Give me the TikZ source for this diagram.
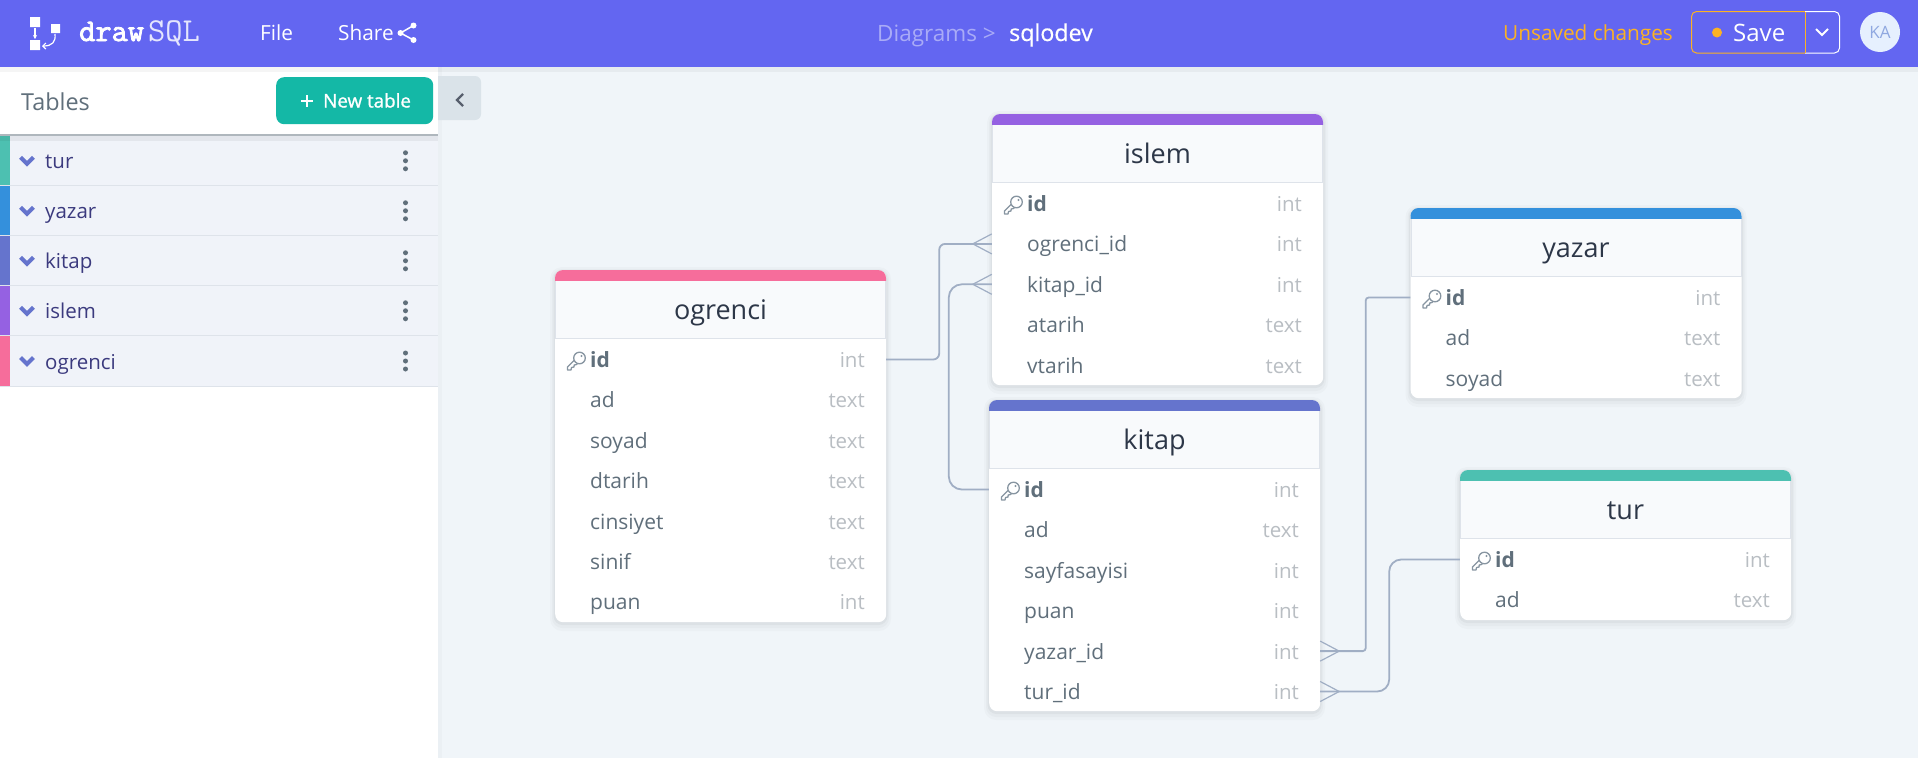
\documentclass[tikz,border=0pt]{standalone}
\usepackage{fontspec}
\setmainfont{Open Sans}
\newfontfamily\medfont[FakeBold=0.5]{Open Sans}
\newfontfamily\btnfont[FakeBold=1.1]{Open Sans}
\newfontfamily\logobold[FakeBold=2.6]{Latin Modern Mono}
\newfontfamily\logolight{Latin Modern Mono}
\usetikzlibrary{arrows.meta}
\definecolor{brand}{HTML}{6366F1}
\definecolor{canvasbg}{HTML}{F0F5F9}
\definecolor{rowbg}{HTML}{F0F3F9}
\definecolor{rowline}{HTML}{DEE3EA}
\definecolor{slate}{HTML}{606F7B}
\definecolor{typegrey}{HTML}{B9BEC3}
\definecolor{titleink}{HTML}{2D3748}
\definecolor{sideink}{HTML}{3B3A7E}
\definecolor{chev}{HTML}{6574CD}
\definecolor{linkc}{HTML}{A0AEC4}
\definecolor{amber}{HTML}{FBB224}
\definecolor{teal}{HTML}{14B8A6}
\definecolor{ctur}{HTML}{4DC0B1}
\definecolor{cyazar}{HTML}{3490DC}
\definecolor{ckitap}{HTML}{6574CD}
\definecolor{cislem}{HTML}{9561E2}
\definecolor{cogrenci}{HTML}{F66D9B}
\definecolor{headfill}{HTML}{F8FAFC}
\definecolor{keyc}{HTML}{8795A1}
\definecolor{collapsec}{HTML}{DAE3E9}
\definecolor{avatarc}{HTML}{E6F0FE}
\definecolor{avatarink}{HTML}{8FA8E0}
\definecolor{crumbc}{HTML}{A9ABF7}
\definecolor{sqlc}{HTML}{E4E5FD}
\tikzset{
  rowbox/.style={inner sep=0pt,minimum height=40pt,draw=none},
  tablebody/.style={inner sep=0pt,fill=white,rounded corners=8pt,anchor=north west},
  fieldname/.style={inner sep=0pt,anchor=base west,text=slate,font=\fontsize{21}{24}\selectfont},
  fieldtype/.style={inner sep=0pt,anchor=base east,text=typegrey,font=\fontsize{20.5}{24}\selectfont},
  tabletitle/.style={inner sep=0pt,anchor=base,text=titleink,font=\fontsize{27}{30}\selectfont},
  barlabel/.style={inner sep=0pt,anchor=base west,text=white,font=\fontsize{20.8}{24}\selectfont},
  sidelabel/.style={inner sep=0pt,anchor=base west,text=sideink,font=\fontsize{20.5}{24}\selectfont},
  link/.style={draw=linkc,line width=1.8pt},
  crow/.style={draw=linkc,line width=1.2pt},
  chevdown/.style={draw=chev,line width=4.2pt,line cap=butt,line join=miter},
  pics/keyicon/.style={code={
    \draw[draw=keyc,fill=white,line width=1.3pt,line join=round]
      (-2.5,0.5) -- (-9.5,7.5) -- (-9.5,10.5) -- (-6,10.5) -- (-5.5,8) -- (-3,7.5) -- (-2.8,5.5) -- (-0.5,5) -- (1.5,3) -- cycle;
    \draw[draw=keyc,fill=white,line width=1.3pt] (2.5,-1.5) circle (5.8);
    \fill[keyc] (4.5,-3.5) circle (1.2);
  }},
}
% name, x, top, width, height, title, colour, rows
\newcommand\dbtable[8]{%
  \fill[black,opacity=.018,rounded corners=12pt] (#2-5,#3-3) rectangle (#2+#4+5,#3+#5+9);
  \fill[black,opacity=.025,rounded corners=10pt] (#2-3,#3-1) rectangle (#2+#4+3,#3+#5+6);
  \fill[black,opacity=.035,rounded corners=9pt] (#2-1.5,#3) rectangle (#2+#4+1.5,#3+#5+3);
  \node[tablebody,minimum width=#4pt,minimum height=#5pt] (#1) at (#2,#3) {};
  \fill[headfill] (#2,#3+10) rectangle (#2+#4,#3+68);
  \draw[rowline,line width=1pt] (#2+.5,#3+10) -- (#2+.5,#3+68) -- (#2+#4-.5,#3+68) -- (#2+#4-.5,#3+10);
  \begin{scope}
    \clip (#2,#3) rectangle (#2+#4,#3+10);
    \fill[#7,rounded corners=8pt] (#2,#3) rectangle (#2+#4,#3+30);
  \end{scope}
  \node[tabletitle] (#1-title) at (#2+#4/2,#3+49) {#6};
  \foreach \rk/\rn/\rt [count=\ri from 0] in {#8}{
    \pgfmathsetmacro\ry{#3+89.5+40.4*\ri}
    \node[rowbox,minimum width=#4pt] (#1-\rk) at (#2+#4/2,\ry) {};
    \ifnum\ri=0
      \pic at (#2+22,\ry) {keyicon};
      \node[fieldname,font=\fontsize{21}{24}\selectfont\bfseries] (#1-\rk-name) at (#2+35,\ry+8) {\rn};
    \else
      \node[fieldname] (#1-\rk-name) at (#2+35,\ry+8) {\rn};
    \fi
    \node[fieldtype] (#1-\rk-type) at (#2+#4-21,\ry+8) {\rt};
  }%
}
% name, y0, y1, colour, text
\newcommand\siderow[5]{%
  \fill[rowbg] (10,#2) rectangle (438,#3);
  \fill[#4] (0,#2) rectangle (10,#3);
  \draw[rowline,line width=1pt] (0,#3) -- (438,#3);
  \draw[chevdown] (20.5,{(#2+#3)/2-3.5}) -- (27,{(#2+#3)/2+3}) -- (33.5,{(#2+#3)/2-3.5});
  \node[sidelabel] (side-#1) at (45,{(#2+#3)/2+8}) {#5};
  \foreach \dy in {-8,0,8} \fill[slate] (405.5,{(#2+#3)/2+\dy}) circle (2.5);
}
\begin{document}
\begin{tikzpicture}[x=1pt,y=-1pt]
\useasboundingbox (0,0) rectangle (1918,758);
\fill[canvasbg] (0,0) rectangle (1918,758);
% sidebar
\fill[black,opacity=.02] (438,67) rectangle (442,758);
\fill[white] (0,67) rectangle (438,758);
% collapse button
\fill[collapsec,rounded corners=6pt] (425,76) rectangle (481,120);
\fill[white] (425,76) rectangle (438,120);
\draw[titleink!80,line width=2.4pt,line join=miter] (463,94) -- (457,100) -- (463,106);
% side rows
\siderow{tur}{136}{185.5}{ctur}{tur}
\siderow{yazar}{186}{235.5}{cyazar}{yazar}
\siderow{kitap}{236}{285.5}{ckitap}{kitap}
\siderow{islem}{286}{335.5}{cislem}{islem}
\siderow{ogrenci}{336}{386}{cogrenci}{ogrenci}
% tables panel
\fill[black,opacity=.05] (0,136) rectangle (438,141);
\fill[white] (0,67) rectangle (438,134);
\fill[slate!50!white] (0,134) rectangle (438,136);
\node[inner sep=0pt,anchor=base west,text=slate,font=\fontsize{23.4}{28}\selectfont] (tables-label) at (21,110) {Tables};
\node[inner sep=0pt,fill=teal,rounded corners=8pt,minimum width=157pt,minimum height=47pt,anchor=north west] (new-btn) at (276,77) {};
\draw[white,line width=1.6pt] (301,101) -- (313,101) (307,95) -- (307,107);
\node[inner sep=0pt,anchor=base west,text=white,font=\fontsize{18.8}{22}\btnfont] (new-label) at (323,107.5) {New table};
% top bar
\fill[black,opacity=.04] (0,67) rectangle (1918,72);
\fill[brand] (0,0) rectangle (1918,67);
% logo
\fill[white] (30,17) rectangle (40,27) (30,40) rectangle (40,50) (51,24) rectangle (60,33);
\draw[white,line width=1.2pt,-{Stealth[length=4pt,width=4pt]}] (35,28) -- (35,39);
\draw[white,line width=1.2pt,-{Straight Barb[length=3pt,width=6pt]}] (55,34) .. controls (56,42) and (52,46) .. (42,46);
\node[inner sep=0pt,anchor=base west,text=white,font=\fontsize{31.5}{34}\logobold] (logo-draw) at (79,41) {draw};
\node[inner sep=0pt,anchor=base west,text=sqlc,font=\fontsize{33.5}{34}\logolight] (logo-sql) at (148,41) {SQL};
\node[barlabel] (file) at (260,40) {File};
\node[barlabel] (share) at (338,40) {Share};
\draw[white,line width=1.5pt] (413.5,25.5) -- (400.5,33) -- (413.5,40);
\fill[white] (413.5,25.5) circle (3) (400.5,33) circle (3) (413.5,40) circle (3);
\node[barlabel,text=crumbc,font=\fontsize{22.5}{26}\selectfont] (crumb) at (877,41) {Diagrams >};
\node[barlabel,font=\fontsize{23.2}{26}\medfont] (docname) at (1009,41) {sqlodev};
\node[barlabel,text=amber] (unsaved) at (1503,40) {Unsaved changes};
\draw[amber,line width=1pt,rounded corners=5pt] (1805,11.5) -- (1691.5,11.5) -- (1691.5,53) -- (1805,53);
\draw[white,line width=1pt,rounded corners=5pt] (1805,11.5) -- (1839.5,11.5) -- (1839.5,53) -- (1805,53);
\draw[amber,line width=1pt] (1805,11.5) -- (1805,53);
\fill[amber] (1717,32.5) circle (5);
\node[barlabel,font=\fontsize{24}{26}\selectfont] (save) at (1733,41) {Save};
\draw[white,line width=2pt] (1816,29) -- (1822,35) -- (1828,29);
\node[inner sep=0pt,circle,fill=avatarc,minimum size=40pt] (avatar) at (1880,32) {};
\node[inner sep=0pt,text=avatarink,font=\fontsize{17}{20}\selectfont] (avatar-text) at (1880,32.5) {KA};
% tables
\dbtable{ogrenci}{555}{270}{331}{352}{ogrenci}{cogrenci}{id/id/int,ad/ad/text,soyad/soyad/text,dtarih/dtarih/text,cinsiyet/cinsiyet/text,sinif/sinif/text,puan/puan/int}
\dbtable{islem}{992}{114}{331}{271}{islem}{cislem}{id/id/int,ogrenci/ogrenci\_id/int,kitap/kitap\_id/int,atarih/atarih/text,vtarih/vtarih/text}
\dbtable{kitap}{989}{400}{331}{311}{kitap}{ckitap}{id/id/int,ad/ad/text,sayfa/sayfasayisi/int,puan/puan/int,yazar/yazar\_id/int,tur/tur\_id/int}
\dbtable{yazar}{1410.5}{208}{331}{190}{yazar}{cyazar}{id/id/int,ad/ad/text,soyad/soyad/text}
\dbtable{tur}{1460}{470}{331}{150}{tur}{ctur}{id/id/int,ad/ad/text}
% connectors
\draw[link,rounded corners=6pt] (ogrenci-id.east) -- ++(53,0) |- (islem-ogrenci.west);
\draw[link,rounded corners=13pt] (kitap-id.west) -- ++(-40,0) |- (islem-kitap.west);
\draw[link,rounded corners=3pt] (kitap-yazar.east) -- ++(45.5,0) |- (yazar-id.west);
\draw[link,rounded corners=12pt] (kitap-tur.east) -- ++(69,0) |- (tur-id.west);
% crow's feet
\draw[crow] (islem-ogrenci.west) ++(0,-10) -- ++(-19,10) -- ++(19,10);
\draw[crow] (islem-kitap.west) ++(0,-10) -- ++(-19,10) -- ++(19,10);
\draw[crow] (kitap-yazar.east) ++(0,-10) -- ++(19,10) -- ++(-19,10);
\draw[crow] (kitap-tur.east) ++(0,-10) -- ++(19,10) -- ++(-19,10);
\end{tikzpicture}
\end{document}
